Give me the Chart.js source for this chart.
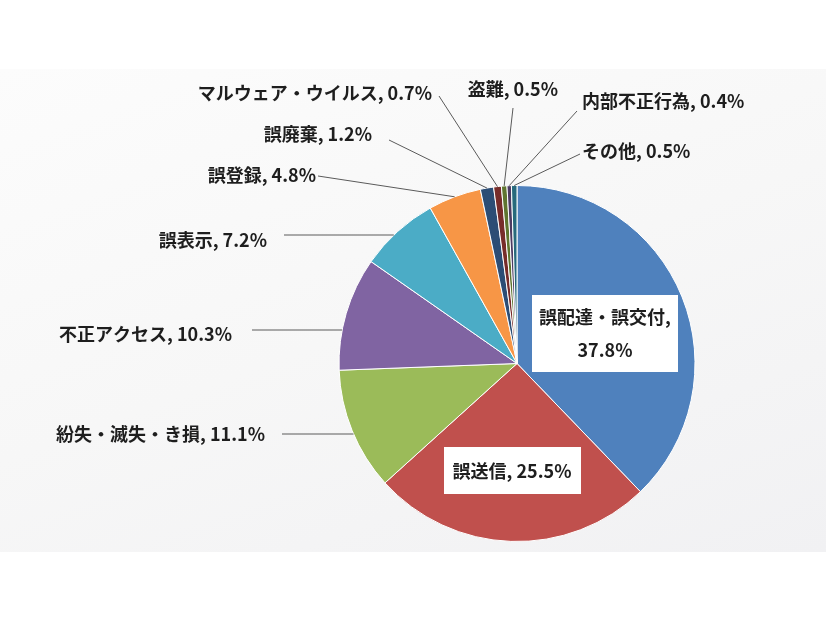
<!DOCTYPE html>
<html lang="ja">
<head>
<meta charset="utf-8">
<script src="https://cdn.jsdelivr.net/npm/chart.js@4/dist/chart.umd.min.js"></script>
<style>
  html, body { margin: 0; padding: 0; background: #fff; }
  #wrap { position: relative; width: 826px; height: 620px; overflow: hidden; }
  #panel {
    position: absolute; left: 0; top: 69px; width: 826px; height: 483px;
    background: linear-gradient(160deg, #fcfcfc 0%, #f7f7f7 50%, #f1f1f3 100%);
  }
  #chart { position: absolute; left: 0; top: 0; }
</style>
</head>
<body>
<div id="wrap">
  <div id="panel"></div>
  <canvas id="chart" width="826" height="620"></canvas>
</div>
<script>
// data
const categories = ['誤配達・誤交付', '誤送信', '紛失・滅失・き損', '不正アクセス', '誤表示', '誤登録', '誤廃棄', 'マルウェア・ウイルス', '盗難', '内部不正行為', 'その他'];
const shares = [37.8, 25.5, 11.1, 10.3, 7.2, 4.8, 1.2, 0.7, 0.5, 0.4, 0.5];
const sliceColors = ['#4f81bd', '#c0504d', '#9bbb59', '#8064a2', '#4bacc6', '#f79646', '#2c4d75', '#772c2a', '#5f7530', '#4d3b62', '#276a7c'];

// where each data label sits (canvas px); box = label drawn inside a white box on the slice
// line: 'h' = horizontal line to the circle edge, 'mid' = line to slice middle
const labelLayout = [
  { box: [532, 295, 146, 77], lines: 2, cx: 605, cy: 333 },
  { box: [444, 447, 137, 47], lines: 1, cx: 512, cy: 471 },
  { x: 265, y: 434, align: 'right', line: 'h', from: [282, 434] },
  { x: 232, y: 334, align: 'right', line: 'h', from: [252, 330] },
  { x: 267, y: 240, align: 'right', line: 'h', from: [284, 235] },
  { x: 316, y: 175, align: 'right', line: 'mid', from: [318, 176] },
  { x: 372, y: 134, align: 'right', line: 'mid', from: [389, 140] },
  { x: 432, y: 93, align: 'right', line: 'mid', from: [439, 96] },
  { x: 558, y: 89, align: 'right', line: 'mid', from: [513, 108] },
  { x: 582, y: 101, align: 'left', line: 'mid', from: [577, 111] },
  { x: 582, y: 151, align: 'left', line: 'mid', from: [580, 154] }
];

const labelFont = 'bold 18px "Noto Sans CJK JP", "Noto Sans", sans-serif';

const pieLabels = {
  id: 'pieLabels',
  afterDatasetsDraw(chart) {
    const ctx = chart.ctx;
    const arcs = chart.getDatasetMeta(0).data;
    ctx.save();
    ctx.font = labelFont;
    ctx.textBaseline = 'middle';
    arcs.forEach((arc, i) => {
      const lay = labelLayout[i];
      const txt = categories[i] + ', ' + shares[i].toFixed(1) + '%';
      ctx.fillStyle = '#1e1e1e';
      if (lay.box) {
        ctx.fillStyle = '#ffffff';
        ctx.fillRect(lay.box[0], lay.box[1], lay.box[2], lay.box[3]);
        ctx.fillStyle = '#1e1e1e';
        ctx.textAlign = 'center';
        if (lay.lines === 2) {
          ctx.fillText(categories[i] + ',', lay.cx, lay.cy - 16);
          ctx.fillText(shares[i].toFixed(1) + '%', lay.cx, lay.cy + 17);
        } else {
          ctx.fillText(txt, lay.cx, lay.cy);
        }
        return;
      }
      // leader line
      const p = arc.getProps(['x', 'y', 'startAngle', 'endAngle', 'outerRadius'], true);
      let ex, ey;
      if (lay.line === 'h') {
        ey = lay.from[1];
        const dy = ey - p.y;
        ex = p.x - Math.sqrt(Math.max(p.outerRadius * p.outerRadius - dy * dy, 0));
      } else {
        const a = (p.startAngle + p.endAngle) / 2;
        ex = p.x + Math.cos(a) * p.outerRadius;
        ey = p.y + Math.sin(a) * p.outerRadius;
      }
      ctx.strokeStyle = '#5a5a5a';
      ctx.lineWidth = 1;
      ctx.beginPath();
      ctx.moveTo(lay.from[0], lay.from[1]);
      ctx.lineTo(ex, ey);
      ctx.stroke();
      ctx.textAlign = lay.align;
      ctx.fillText(txt, lay.x, lay.y);
    });
    ctx.restore();
  }
};

new Chart(document.getElementById('chart'), {
  type: 'pie',
  data: {
    labels: categories,
    datasets: [{
      data: shares,
      backgroundColor: sliceColors,
      borderColor: '#ffffff',
      borderWidth: 1
    }]
  },
  options: {
    responsive: false,
    animation: false,
    layout: { padding: { left: 208, right: 0, top: 185, bottom: 78 } },
    plugins: {
      legend: { display: false },
      tooltip: { enabled: false }
    }
  },
  plugins: [pieLabels]
});
</script>
</body>
</html>
